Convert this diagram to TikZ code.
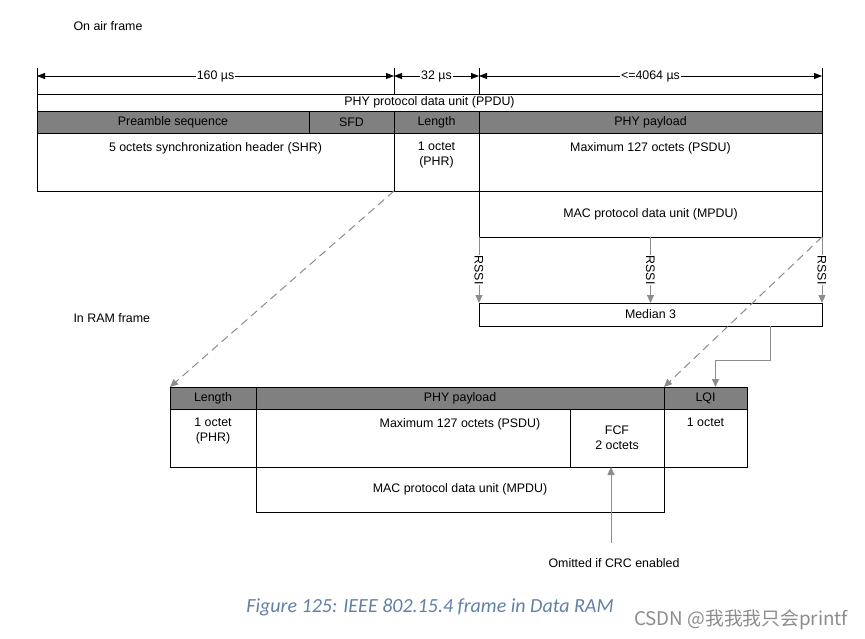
\documentclass[tikz,border=0pt]{standalone}
\usepackage{fontspec}
\setmainfont{Liberation Sans}
\newfontfamily\capfont{Carlito}
\newfontfamily\cjkfont{Noto Sans CJK SC}
\usetikzlibrary{arrows.meta, positioning, calc}
\definecolor{hdrgray}{RGB}{128,128,128}
\definecolor{linkgray}{RGB}{140,140,140}
\definecolor{capblue}{RGB}{98,128,168}

\begin{document}
\begin{tikzpicture}[x=1pt, y=-1pt,
  font=\fontsize{12.4}{15}\selectfont,
  cell/.style={draw, line width=0.8pt, anchor=north west, inner sep=0pt, outer sep=0pt, align=center},
  hdr/.style={cell, fill=hdrgray, minimum height=22pt},
  body/.style={cell, minimum height=58pt},
  toptext/.style={anchor=north, inner sep=0pt, align=center, yshift=-9pt},
  dim/.style={{Triangle[length=8pt,width=6pt]}-{Triangle[length=8pt,width=6pt]}, line width=0.8pt},
  dimlbl/.style={fill=white, inner sep=1pt},
  feed/.style={-{Triangle[length=8pt,width=7pt]}, linkgray, line width=1pt},
  link/.style={feed, dash pattern=on 8pt off 5pt},
  rssi/.style={rotate=-90, fill=white, inner sep=1pt, text=black}
]
  \useasboundingbox (0,0) rectangle (865,639);

  % On air frame
  \node[anchor=west] (airlbl) at (70,26) {On air frame};
  \node[cell, minimum width=785pt, minimum height=17pt] (ppdu) at (37,94) {PHY protocol data unit (PPDU)};
  \node[hdr, minimum width=272pt] (pre) at (ppdu.south west) {Preamble sequence};
  \node[hdr, minimum width=85pt] (sfd) at (pre.north east) {SFD};
  \node[hdr, minimum width=85pt] (len) at (sfd.north east) {Length};
  \node[hdr, minimum width=343pt] (pay) at (len.north east) {PHY payload};
  \node[body, minimum width=357pt] (shr) at (pre.south west) {};
  \node[toptext] (shrtxt) at (shr.north) {5 octets synchronization header (SHR)};
  \node[body, minimum width=85pt] (phr) at (len.south west) {};
  \node[toptext] (phrtxt) at (phr.north) {1 octet\\(PHR)};
  \node[body, minimum width=343pt] (psdu) at (pay.south west) {};
  \node[toptext] (psdutxt) at (psdu.north) {Maximum 127 octets (PSDU)};
  \node[cell, minimum width=343pt, minimum height=46pt] (mpdu) at (psdu.south west) {MAC protocol data unit (MPDU)};

  % Timing
  \coordinate (t0) at ($(ppdu.north west)+(0,-18)$);
  \coordinate (t1) at ($(len.north west |- ppdu.north)+(0,-18)$);
  \coordinate (t2) at ($(pay.north west |- ppdu.north)+(0,-18)$);
  \coordinate (t3) at ($(ppdu.north east)+(0,-18)$);
  \foreach \t in {t0,t1,t2,t3}
    \draw[line width=0.8pt] (\t |- ppdu.north) -- ++(0,-26);
  \draw[dim] (t0) -- node[dimlbl] (d160) {160 µs} (t1);
  \draw[dim] (t1) -- node[dimlbl] (d32) {32 µs} (t2);
  \draw[dim] (t2) -- node[dimlbl] (d4064) {<=4064 µs} (t3);

  % Median
  \node[cell, minimum width=343pt, minimum height=23pt, below=66pt of mpdu.south west, anchor=north west] (median) {Median 3};
  \draw[feed] (mpdu.south west) -- node[rssi] (r1) {RSSI} (median.north west);
  \draw[feed] (mpdu.south) -- node[rssi] (r2) {RSSI} (median.north);
  \draw[feed] (mpdu.south east) -- node[rssi] (r3) {RSSI} (median.north east);

  % In RAM frame
  \node[anchor=west] (ramlbl) at (70,318) {In RAM frame};
  \node[hdr, minimum width=86pt] (lenR) at (170,387) {Length};
  \node[hdr, minimum width=408pt] (payR) at (lenR.north east) {PHY payload};
  \node[hdr, minimum width=83pt] (lqiR) at (payR.north east) {LQI};
  \node[body, minimum width=86pt] (phrR) at (lenR.south west) {};
  \node[toptext] (phrRtxt) at (phrR.north) {1 octet\\(PHR)};
  \node[body, minimum width=408pt] (psduR) at (payR.south west) {};
  \node[toptext] (psduRtxt) at (psduR.north) {Maximum 127 octets (PSDU)};
  \node[body, minimum width=94pt] (fcf) at ($(payR.south east)+(-94,0)$) {FCF\\2 octets};
  \node[body, minimum width=83pt] (lqiB) at (lqiR.south west) {};
  \node[toptext] (lqitxt) at (lqiB.north) {1 octet};
  \node[cell, minimum width=408pt, minimum height=45pt] (mpduR) at (psduR.south west) {MAC protocol data unit (MPDU)};

  % Links
  \draw[link] (phr.south west) -- (lenR.north west);
  \draw[link] (mpdu.south east) -- (lqiR.north west);
  \draw[feed] ($(median.south)+(120,0)$) -- ++(0,34) -| ($(lqiR.north)+(10,0)$);

  \node (omit) at (614,563) {Omitted if CRC enabled};
  \draw[feed] ([xshift=-3pt,yshift=12pt]omit.north) -- ([xshift=-6pt]fcf.south);

  % Caption
  \node[font=\capfont\itshape\fontsize{20}{24}\selectfont, text=capblue] (caption) at (430,607) {Figure 125: IEEE 802.15.4 frame in Data RAM};
  \node[font=\cjkfont\fontsize{18.8}{22}\selectfont, text=black!45] (mark) at (741,620) {CSDN @我我我只会printf};
\end{tikzpicture}
\end{document}
